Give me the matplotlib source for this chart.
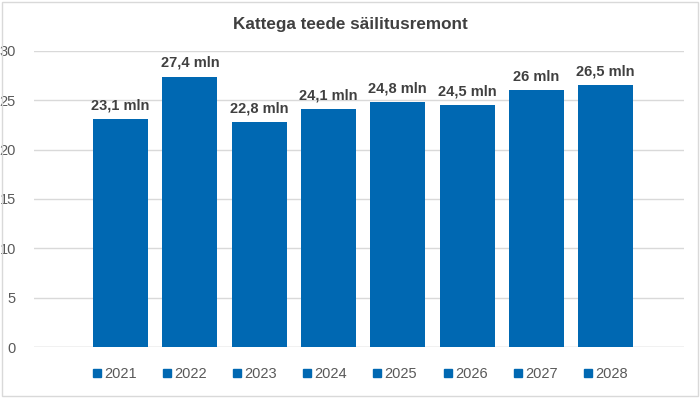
import matplotlib.pyplot as plt
from matplotlib.patches import Rectangle
from matplotlib.lines import Line2D

plt.rcParams['font.family'] = ['Liberation Sans', 'DejaVu Sans']

# data
years = ['2021', '2022', '2023', '2024', '2025', '2026', '2027', '2028']
values = [23.1, 27.4, 22.8, 24.1, 24.8, 24.5, 26.0, 26.5]
labels = ['23,1 mln', '27,4 mln', '22,8 mln', '24,1 mln',
          '24,8 mln', '24,5 mln', '26 mln', '26,5 mln']

bar_color = '#0068B2'
text_dark = '#404040'
tick_gray = '#595959'

fig = plt.figure(figsize=(7.0, 3.98), dpi=100)
ax = fig.add_axes([0.0486, 0.128, 0.9285, 0.744])

x = range(len(years))
ax.bar(x, values, width=0.794, color=bar_color, zorder=3)
for xi, v, lab in zip(x, values, labels):
    ax.text(xi, v + 1.0, lab, ha='center', va='baseline', fontsize=10.5,
            fontweight='bold', color=text_dark)

ax.set_ylim(0, 30)
ax.set_xlim(-1.248, 8.13)
ax.set_yticks(range(0, 31, 5))
ax.set_xticks([])
ax.tick_params(axis='y', length=0, labelsize=10.5, labelcolor=tick_gray, pad=13)
ax.grid(axis='y', color='#D9D9D9', linewidth=1, zorder=0)
for s in ax.spines.values():
    s.set_visible(False)
ax.axhline(0, color='#D9D9D9', linewidth=1, zorder=1)

fig.text(0.5, 0.927, 'Kattega teede säilitusremont', ha='center', va='baseline',
         fontsize=12.3, fontweight='bold', color=text_dark)

handles = [Line2D([], [], marker='s', linestyle='none', color=bar_color,
                  markersize=5.5) for _ in years]
fig.legend(handles, years, loc='center', bbox_to_anchor=(0.514, 0.061),
           ncol=len(years), frameon=False, fontsize=10.5, handletextpad=0.15,
           columnspacing=1.72, labelcolor=tick_gray, handlelength=0.7)

fig.patches.append(Rectangle((0.003, 0.004), 0.994, 0.992,
                             transform=fig.transFigure, fill=False,
                             edgecolor='#D9D9D9', linewidth=1))

fig.savefig('out.png', dpi=100)
